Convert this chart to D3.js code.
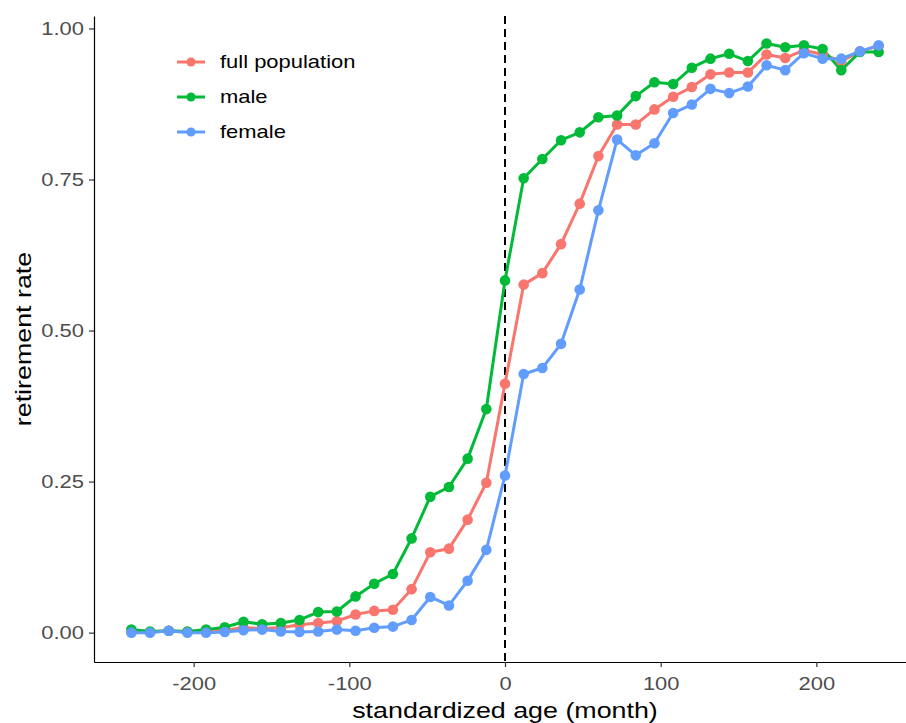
<!DOCTYPE html>
<html>
<head>
<meta charset="utf-8">
<script src="https://cdn.jsdelivr.net/npm/d3@7"></script>
<style>
  body { margin: 0; background: #fff; }
  svg { display: block; font-family: "Liberation Sans", Arial, sans-serif; }
</style>
</head>
<body>
<div id="chart"></div>
<script>
// months relative to retirement age, step 12
const months = d3.range(-240, 241, 12);

const fullPopulation = [
  0.002, 0.001, 0.003, 0.001, 0.003, 0.004, 0.008, 0.007, 0.008, 0.013,
  0.016, 0.019, 0.030, 0.036, 0.038, 0.072, 0.133, 0.139, 0.187, 0.248,
  0.412, 0.576, 0.595, 0.643, 0.710, 0.789, 0.841, 0.841, 0.866, 0.887,
  0.903, 0.924, 0.927, 0.927, 0.957, 0.951, 0.964, 0.957, 0.946, 0.962, 0.971
];
const male = [
  0.005, 0.002, 0.003, 0.002, 0.005, 0.009, 0.018, 0.014, 0.016, 0.021,
  0.034, 0.035, 0.060, 0.081, 0.097, 0.156, 0.225, 0.241, 0.288, 0.370,
  0.583, 0.752, 0.784, 0.815, 0.828, 0.853, 0.856, 0.888, 0.911, 0.908,
  0.935, 0.950, 0.958, 0.946, 0.975, 0.969, 0.972, 0.966, 0.931, 0.961, 0.961
];
const female = [
  0.000, 0.000, 0.003, 0.000, 0.000, 0.001, 0.004, 0.005, 0.002, 0.001,
  0.002, 0.005, 0.003, 0.008, 0.010, 0.021, 0.059, 0.045, 0.086, 0.137,
  0.260, 0.428, 0.438, 0.478, 0.568, 0.699, 0.816, 0.790, 0.810, 0.860,
  0.874, 0.900, 0.893, 0.904, 0.939, 0.931, 0.959, 0.950, 0.950, 0.962, 0.972
];

const seriesNames = ["full population", "male", "female"];
const seriesColors = ["#F8766D", "#00BA38", "#619CFF"];
const seriesValues = [fullPopulation, male, female];

const xTicks = [-200, -100, 0, 100, 200];
const yTicks = [0, 0.25, 0.5, 0.75, 1];

const W = 906, H = 723;
const panel = { left: 94, bottom: 662, top: 16, right: 916 };
const stretch = 1.22; // text in the original is set wide

const svg = d3.select("#chart").append("svg")
  .attr("width", W).attr("height", H);

svg.append("rect").attr("width", W).attr("height", H).attr("fill", "#fff");

// ggplot-like 5% expansion
const x = d3.scaleLinear().domain([-264, 264]).range([panel.left, panel.right]);
const y = d3.scaleLinear().domain([-0.0486, 1.0206]).range([panel.bottom, panel.top]);

// helper: wide text placed at (tx, ty), optionally rotated
function wideText(g, tx, ty, rot, size, str) {
  return g.append("text")
    .attr("transform", `translate(${tx},${ty}) rotate(${rot}) scale(${stretch},1)`)
    .style("font-size", size + "px")
    .text(str);
}

// axes
const xAxis = svg.append("g")
  .attr("transform", `translate(0,${panel.bottom})`)
  .call(d3.axisBottom(x).tickValues(xTicks).tickFormat(d => String(d))
    .tickSize(5).tickPadding(10).tickSizeOuter(0));
const yAxis = svg.append("g")
  .attr("transform", `translate(${panel.left},0)`)
  .call(d3.axisLeft(y).tickValues(yTicks).tickFormat(d => d.toFixed(2))
    .tickSize(5).tickPadding(5).tickSizeOuter(0));

[xAxis, yAxis].forEach(g => {
  g.select(".domain").attr("stroke", "#000").attr("stroke-width", 1.2);
  g.selectAll(".tick line").attr("stroke", "#333").attr("stroke-width", 1.2);
  g.selectAll(".tick text")
    .attr("fill", "#4d4d4d")
    .style("font-size", "18px")
    .style("font-family", "'Liberation Sans', Arial, sans-serif")
    .each(function () {
      const t = d3.select(this);
      const tx = +t.attr("x") || 0;
      t.attr("x", tx / stretch).attr("transform", `scale(${stretch},1)`);
    });
});

// dashed reference line at 0
svg.append("line")
  .attr("x1", x(0)).attr("x2", x(0))
  .attr("y1", panel.top).attr("y2", panel.bottom)
  .attr("stroke", "#000").attr("stroke-width", 2)
  .attr("stroke-dasharray", "8,5");

const line = d3.line()
  .x((d, i) => x(months[i]))
  .y(d => y(d));

// lines first, then points
seriesValues.forEach((vals, s) => {
  svg.append("path")
    .datum(vals)
    .attr("fill", "none")
    .attr("stroke", seriesColors[s])
    .attr("stroke-width", 3)
    .attr("stroke-linejoin", "round")
    .attr("d", line);
});
seriesValues.forEach((vals, s) => {
  svg.append("g").selectAll("circle")
    .data(vals)
    .enter()
    .append("circle")
    .attr("cx", (d, i) => x(months[i]))
    .attr("cy", d => y(d))
    .attr("r", 5.3)
    .attr("fill", seriesColors[s]);
});

// legend
const legend = svg.append("g");
seriesNames.forEach((name, s) => {
  const ly = 62 + s * 35;
  legend.append("line")
    .attr("x1", 177).attr("x2", 205).attr("y1", ly).attr("y2", ly)
    .attr("stroke", seriesColors[s]).attr("stroke-width", 3);
  legend.append("circle")
    .attr("cx", 191).attr("cy", ly).attr("r", 4.5)
    .attr("fill", seriesColors[s]);
  wideText(legend, 220, ly + 6, 0, 18, name).attr("fill", "#000");
});

// axis titles
wideText(svg, (panel.left + panel.right) / 2, 718, 0, 22, "standardized age (month)")
  .attr("text-anchor", "middle");
wideText(svg, 31, (panel.top + panel.bottom) / 2, -90, 22, "retirement rate")
  .attr("text-anchor", "middle");
</script>
</body>
</html>
